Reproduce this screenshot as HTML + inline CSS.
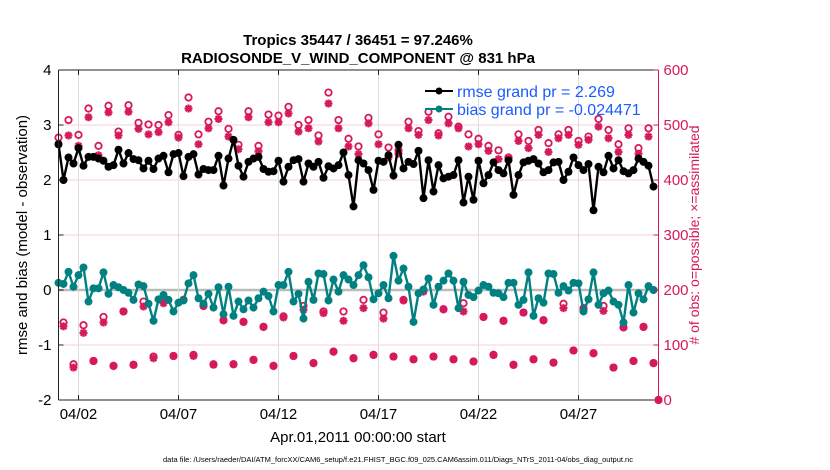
<!DOCTYPE html>
<html><head><meta charset="utf-8"><style>
body{margin:0;background:#fff;}
svg{display:block;font-family:"Liberation Sans",Arial,sans-serif;}
</style></head><body>
<svg id="chart" width="830" height="470" viewBox="0 0 830 470" xmlns="http://www.w3.org/2000/svg">
<text x="358" y="45" text-anchor="middle" font-size="15" font-weight="bold">Tropics 35447 / 36451 = 97.246%</text>
<text x="358" y="63" text-anchor="middle" font-size="15" font-weight="bold">RADIOSONDE_V_WIND_COMPONENT @ 831 hPa</text>
<g id="grid"></g>
<g id="marks"></g>
<g id="axes"></g>
<text transform="translate(27,235) rotate(-90)" text-anchor="middle" font-size="15">rmse and bias (model - observation)</text>
<text transform="translate(699,235) rotate(-90)" text-anchor="middle" font-size="14" fill="#d6185c"># of obs: o=possible; ×=assimilated</text>
<text x="358" y="442" text-anchor="middle" font-size="15">Apr.01,2011 00:00:00 start</text>
<text x="398" y="462" text-anchor="middle" font-size="7.5">data file: /Users/raeder/DAI/ATM_forcXX/CAM6_setup/f.e21.FHIST_BGC.f09_025.CAM6assim.011/Diags_NTrS_2011-04/obs_diag_output.nc</text>
<g>
<line x1="425" y1="91" x2="453" y2="91" stroke="#000" stroke-width="2"/><circle cx="439" cy="91" r="3.5" fill="#000"/>
<text x="457" y="97" font-size="16" fill="#1a5cff">rmse grand pr = 2.269</text>
<line x1="425" y1="109" x2="453" y2="109" stroke="#008080" stroke-width="2"/><circle cx="439" cy="109" r="3.5" fill="#008080"/>
<text x="457" y="115" font-size="16" fill="#1a5cff">bias grand pr = -0.024471</text>
</g>
</svg>
<script>
const rmse=[2.65,2.00,2.41,2.30,2.58,2.26,2.42,2.42,2.39,2.35,2.24,2.27,2.55,2.30,2.49,2.38,2.36,2.21,2.35,2.20,2.39,2.44,2.14,2.47,2.49,2.07,2.42,2.47,2.10,2.20,2.18,2.18,2.44,1.90,2.39,2.73,2.26,2.06,2.33,2.39,2.42,
2.20,2.15,2.16,2.35,1.97,2.24,2.36,2.38,1.97,2.30,2.24,2.33,2.04,2.25,2.21,2.27,2.50,2.09,1.52,2.36,2.30,2.18,1.82,2.35,2.33,2.45,2.08,2.64,2.21,2.33,2.29,2.53,1.67,2.36,1.79,2.27,2.03,2.06,2.09,2.36,
1.59,2.06,1.64,2.35,1.94,2.09,2.32,2.18,2.12,2.36,1.73,2.09,2.32,2.35,2.38,2.30,2.14,2.18,2.32,2.33,2.00,2.15,2.41,2.27,2.18,2.29,1.45,2.24,2.14,2.44,2.21,2.36,2.16,2.12,2.18,2.39,2.33,2.26,1.88];
const bias=[0.13,0.11,0.33,0.06,0.27,0.41,-0.21,0.03,0.03,0.32,-0.07,0.09,0.05,0.00,-0.05,-0.18,0.10,0.07,-0.25,-0.56,-0.17,-0.09,-0.18,-0.39,-0.23,-0.19,0.12,0.27,-0.15,-0.25,-0.07,-0.32,0.05,-0.44,0.06,-0.47,-0.21,-0.35,-0.19,-0.32,-0.15,
-0.03,-0.11,-0.39,0.09,0.09,0.33,-0.21,-0.07,-0.52,0.15,-0.18,0.30,0.29,-0.19,0.19,-0.03,0.27,0.19,0.09,0.27,0.45,0.23,-0.17,-0.06,0.09,-0.15,0.62,0.17,0.39,0.06,-0.58,-0.06,0.01,0.21,-0.27,0.06,0.17,0.30,0.17,-0.33,
0.15,-0.09,-0.13,-0.01,0.09,0.06,-0.05,-0.06,-0.13,0.13,0.13,-0.27,-0.18,0.32,-0.47,-0.15,-0.23,0.30,0.29,-0.05,0.07,-0.01,0.13,0.12,-0.39,-0.17,0.32,-0.27,-0.06,-0.01,-0.21,-0.27,-0.59,0.09,-0.41,-0.06,-0.17,0.07,0.00];
const possEven=[477,509,482,530,462,535,488,536,504,501,500,518,482,550,483,506,525,493,464,525,462,519,517,533,500,509,481,559,509,475,461,513,483,459,454,506,489,524,485,515,497,483,475,462,454,441,483,471,491,467,483,491,471,479,511,491,465,494,458,494];
const assimEven=[465,481,462,514,445,523,481,524,493,483,487,505,477,530,465,494,511,479,456,514,452,505,505,521,488,494,470,539,494,461,447,503,465,441,448,494,482,509,481,503,494,461,465,453,438,438,471,458,482,451,476,482,464,473,497,476,451,482,448,479];
const possA=[141,136,151,161,179,188,182,171,145,142,133,152,171,161,161,182,159,182,200,165,176,151,144,159,145,175,167,171,132,133];
const assimA=[134,122,141,161,170,176,182,171,145,142,133,150,164,158,144,167,148,181,197,165,161,151,144,159,145,167,165,162,132,133];
const possB=[65,71,62,64,79,80,82,65,65,73,62,80,67,88,76,82,79,74,79,74,70,82,64,74,68,90,85,59,71,67];
const assimB=[59,71,62,64,76,80,80,64,65,73,62,80,67,88,76,82,79,74,79,74,70,82,64,74,68,90,85,59,71,67];
const lastCount=[0];
const xTickLabels=["04/02","04/07","04/12","04/17","04/22","04/27"];
const xTickDays=[1,6,11,16,21,26];
const yTicks=[-2,-1,0,1,2,3,4];
const y2Ticks=[0,100,200,300,400,500,600];

const NS="http://www.w3.org/2000/svg";
const X0=58.5,X1=658.5,Y0=70,Y1=400;
const xDay=d=>X0+d*20;
const xIdx=i=>xDay(i*0.25);
const yL=v=>Y0+(4-v)*(Y1-Y0)/6;
const yR=n=>Y1-n*(Y1-Y0)/600;
const PINK="#d6185c";
function mk(tag,attrs,parent){const e=document.createElementNS(NS,tag);for(const k in attrs)e.setAttribute(k,attrs[k]);parent.appendChild(e);return e;}
const grid=document.getElementById('grid'),marks=document.getElementById('marks'),axes=document.getElementById('axes');

y2Ticks.forEach(n=>{if(n===0||n===600)return;
 const l=mk('line',{x1:X0,x2:X1,y1:yR(n),y2:yR(n),stroke:n===200?'#bbbbbb':'#f6d2de','stroke-width':n===200?2.5:1},grid);
 
 });
xTickDays.forEach(d=>{const l=mk('line',{x1:xDay(d),x2:xDay(d),y1:Y0,y2:Y1,stroke:'#dddddd','stroke-width':1},grid);
 
 });

function star(cx,cy,g){const s=4;
 mk('path',{d:`M${cx-s} ${cy}H${cx+s}M${cx} ${cy-s}V${cy+s}M${cx-s*0.72} ${cy-s*0.72}L${cx+s*0.72} ${cy+s*0.72}M${cx-s*0.72} ${cy+s*0.72}L${cx+s*0.72} ${cy-s*0.72}`,stroke:PINK,'stroke-width':2.2,fill:'none'},g);}
function countPoint(i,p,a){
 const g=mk('g',{},marks);
 
 
 mk('circle',{cx:xIdx(i),cy:yR(p),r:3.2,fill:'none',stroke:PINK,'stroke-width':1.8},g);
 star(xIdx(i),yR(a),g);}
possEven.forEach((p,k)=>countPoint(2*k,p,assimEven[k]));
possA.forEach((p,k)=>countPoint(1+4*k,p,assimA[k]));
possB.forEach((p,k)=>countPoint(3+4*k,p,assimB[k]));
countPoint(120,lastCount[0],lastCount[0]);

function series(vals,color,name){
 const pl=mk('polyline',{points:vals.map((v,i)=>xIdx(i)+','+yL(v)).join(' '),fill:'none',stroke:color,'stroke-width':2.4,'stroke-linejoin':'round'},marks);
 
 
 vals.forEach((v,i)=>{const c=mk('circle',{cx:xIdx(i),cy:yL(v),r:4,fill:color},marks);
  
  });}
series(bias,'#008080','bias');
series(rmse,'#000000','rmse');

mk('line',{x1:X0,x2:X1,y1:Y0,y2:Y0,stroke:'#222','stroke-width':1},axes);
mk('line',{x1:X0,x2:X1,y1:Y1,y2:Y1,stroke:'#222','stroke-width':1},axes);
mk('line',{x1:X0,x2:X0,y1:Y0,y2:Y1,stroke:'#222','stroke-width':1},axes);
mk('line',{x1:X1,x2:X1,y1:Y0,y2:Y1,stroke:PINK,'stroke-width':1},axes);
yTicks.forEach(v=>{mk('line',{x1:X0,x2:X0+5,y1:yL(v),y2:yL(v),stroke:'#222'},axes);
 const t=mk('text',{x:X0-7,y:yL(v)+5,'text-anchor':'end','font-size':15},axes);t.textContent=v;
 
 });
y2Ticks.forEach(n=>{mk('line',{x1:X1-5,x2:X1,y1:yR(n),y2:yR(n),stroke:PINK},axes);
 const t=mk('text',{x:X1+5,y:yR(n)+5,'font-size':15,fill:PINK},axes);t.textContent=n;
 
 });
xTickDays.forEach((d,k)=>{mk('line',{x1:xDay(d),x2:xDay(d),y1:Y1,y2:Y1-5,stroke:'#222'},axes);
 mk('line',{x1:xDay(d),x2:xDay(d),y1:Y0,y2:Y0+5,stroke:'#222'},axes);
 const t=mk('text',{x:xDay(d),y:Y1+19,'text-anchor':'middle','font-size':15},axes);t.textContent=xTickLabels[k];
 
 });
</script>
</body></html>
